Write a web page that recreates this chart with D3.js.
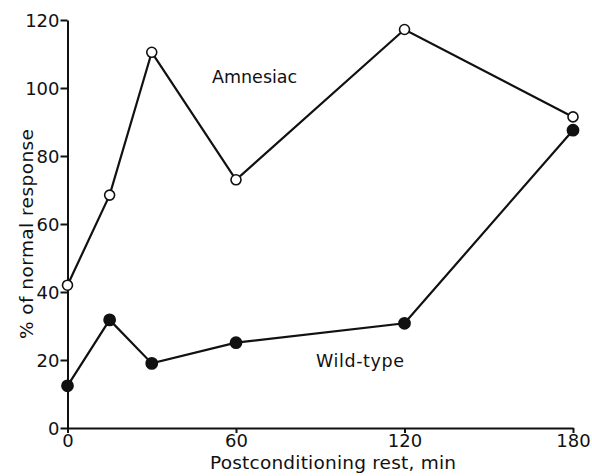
<!DOCTYPE html>
<html>
<head>
<meta charset="utf-8">
<title>Amnesiac vs wild-type</title>
<script src="https://d3js.org/d3.v7.min.js"></script>
<style>
  body { margin: 0; padding: 0; background: #fff; }
  svg { display: block; font-family: "DejaVu Sans", "Liberation Sans", Arial, sans-serif; }
  .axis path, .axis line { stroke: #111; stroke-width: 2px; }
  .axis text { font-size: 18px; fill: #111; font-family: "DejaVu Sans", sans-serif; }
  .series { fill: none; stroke: #111; stroke-width: 2.2px; }
  .lbl { font-size: 17.5px; fill: #111; }
  .title { font-size: 18.5px; fill: #111; }
</style>
</head>
<body>
<svg width="592" height="476"></svg>
<script>
// rest time (min)
var restTimes = [0, 15, 30, 60, 120, 180];
var amnesiac = [42, 68.5, 110.5, 73, 117.2, 91.5];
var wildType = [12.4, 31.8, 19, 25.1, 30.8, 87.6];
var xTicks = [0, 60, 120, 180];
var yTicks = [0, 20, 40, 60, 80, 100, 120];

var svg = d3.select('svg');
var margin = { left: 67.5, right: 19, top: 20, bottom: 48 };
var width = +svg.attr('width');
var height = +svg.attr('height');

var x = d3.scaleLinear().domain([0, 180]).range([margin.left, width - margin.right]);
var y = d3.scaleLinear().domain([0, 120]).range([height - margin.bottom, margin.top]);

var xAxis = svg.append('g')
    .attr('class', 'axis')
    .attr('transform', 'translate(0,' + y(0) + ')')
    .call(d3.axisBottom(x).tickValues(xTicks).tickSize(5).tickSizeOuter(0).tickPadding(2));
xAxis.selectAll('text').attr('dy', '0.68em');

var yAxis = svg.append('g')
    .attr('class', 'axis')
    .attr('transform', 'translate(' + x(0) + ',0)')
    .call(d3.axisLeft(y).tickValues(yTicks).tickSize(7).tickSizeOuter(0));
yAxis.selectAll('text').attr('x', -8).attr('dy', '0.36em');

var line = d3.line()
    .x(function(d) { return x(d[0]); })
    .y(function(d) { return y(d[1]); });

function draw(vals, fill) {
  var pts = restTimes.map(function(t, i) { return [t, vals[i]]; });
  svg.append('path').datum(pts).attr('class', 'series').attr('d', line);
  svg.selectAll(null)
    .data(pts)
    .enter().append('circle')
    .attr('cx', function(d) { return x(d[0]); })
    .attr('cy', function(d) { return y(d[1]); })
    .attr('r', fill === '#fff' ? 5 : 5.6)
    .attr('fill', fill)
    .attr('stroke', '#111')
    .attr('stroke-width', 1.6);
}
draw(wildType, '#111');
draw(amnesiac, '#fff');

svg.append('text').attr('class', 'lbl')
    .attr('x', 212).attr('y', 83)
    .text('Amnesiac');
svg.append('text').attr('class', 'lbl')
    .attr('x', 316).attr('y', 367)
    .attr('textLength', 88)
    .text('Wild-type');

svg.append('text').attr('class', 'title')
    .attr('x', 333).attr('y', 469)
    .attr('textLength', 246)
    .style('text-anchor', 'middle')
    .text('Postconditioning rest, min');
svg.append('text').attr('class', 'title')
    .attr('transform', 'translate(33,234) rotate(-90)')
    .attr('textLength', 210)
    .style('text-anchor', 'middle')
    .text('% of normal response');
</script>
</body>
</html>
